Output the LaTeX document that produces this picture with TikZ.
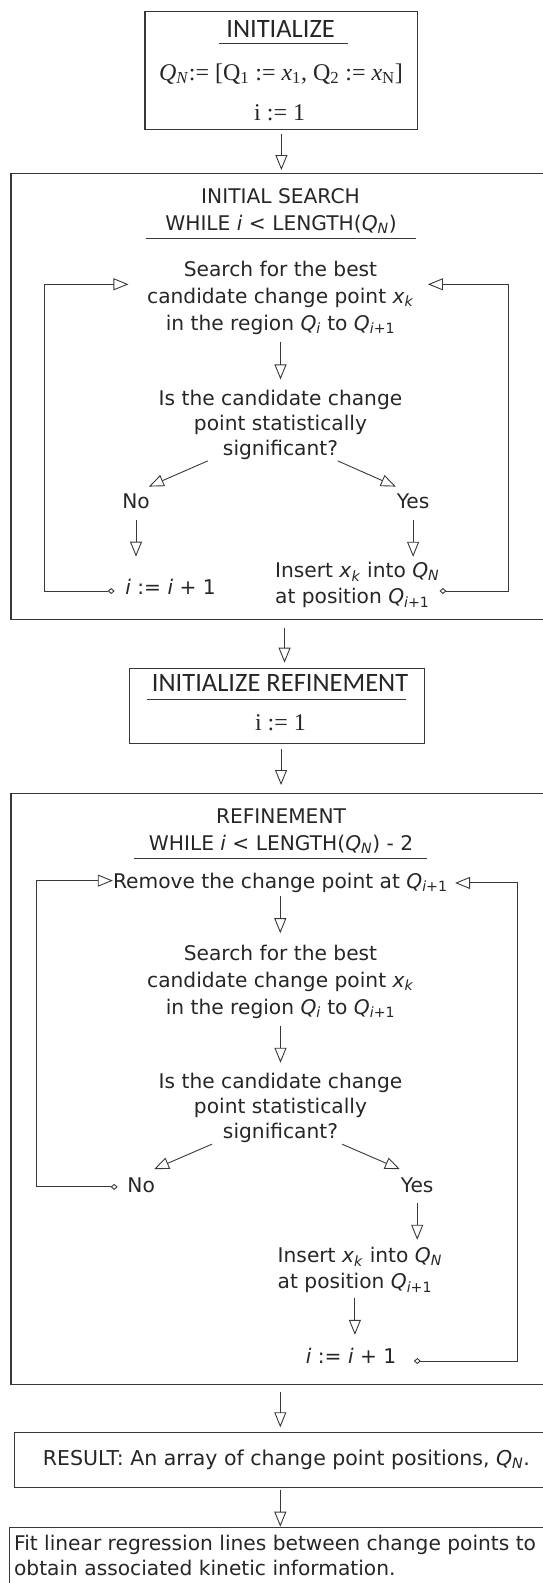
\documentclass[tikz,border=0pt]{standalone}
\usepackage{fontspec}
\setmainfont{DejaVu Sans}
\newfontfamily\headfont{Carlito}
\newfontfamily\mathsetfont{Liberation Serif}
\usepackage{tikz}
\usetikzlibrary{arrows.meta, calc}
\definecolor{ink}{HTML}{262626}
\definecolor{edge}{HTML}{383838}
\newcommand{\Qs}[1]{\textit{Q}\textsubscript{#1}}
\newcommand{\xk}{\textit{x}\textsubscript{\textit{k}}}
\tikzset{
  every node/.append style={font=\fontsize{20.2}{26}\selectfont, text=ink, inner sep=0pt},
  frame/.style={draw=edge, line width=1.1pt, anchor=north west},
  head/.style={font=\headfont\fontsize{26.5}{30}\selectfont},
  assign/.style={anchor=base, font=\mathsetfont\fontsize{24}{28}\selectfont},
  flow/.style={draw=edge, line width=0.9pt, -{Triangle[open, length=15pt, width=12pt]}},
  back/.style={draw=edge, line width=0.9pt, {Diamond[open, length=7pt, width=6pt]}-{Triangle[open, length=15pt, width=12pt]}},
  rule/.style={draw=edge, line width=1pt}
}

\begin{document}
\begin{tikzpicture}[x=1pt, y=-1pt]
    \useasboundingbox (0,0) rectangle (543,1583);
    \clip (0,0) rectangle (543,1583);

    % initialize
    \node[frame, minimum width=272.9, minimum height=118.6] (init) at (144.4,10.7) {};
    \node[head, anchor=base] (initH) at (280.6,37.7) {INITIALIZE};
    \draw[rule] (219.2,43.7) -- (348,43.7);
    \node[assign] (initQ) at (281,80) {\textit{Q}\textsubscript{\textit{N}}:= [Q\textsubscript{1} := \textit{x}\textsubscript{1}, Q\textsubscript{2} := \textit{x}\textsubscript{N}]};
    \node[assign] (initI) at (279.6,120) {i := 1};

    % initial search
    \node[frame, minimum width=600, minimum height=446] (search) at (10.4,173.3) {};
    \node[anchor=base] (searchH) at (280.5,203.3) {INITIAL SEARCH};
    \node[anchor=base] (searchW) at (281,230) {WHILE \textit{i} < LENGTH(\Qs{\textit{N}})};
    \draw[rule] (145.5,238.3) -- (415.6,238.3);
    \node[align=center, font=\fontsize{20.2}{27}\selectfont] (s1) at (280.5,297.8) {Search for the best\\candidate change point \xk\\in the region \Qs{\textit{i}} to \Qs{\textit{i}+1}};
    \node[align=center, font=\fontsize{20.2}{25}\selectfont] (q1) at (280.5,424.7) {Is the candidate change\\point statistically\\significant?};
    \node[anchor=base] (no1) at (136,508.3) {No};
    \node[anchor=base] (yes1) at (413.1,508.3) {Yes};
    \node (i1) at (170.6,586.5) {\textit{i} := \textit{i} + 1};
    \node[align=left] (ins1) at (357.2,585) {Insert \xk{} into \Qs{\textit{N}}\\at position \Qs{\textit{i}+1}};

    \draw[flow, shorten <=4pt, shorten >=3.3pt] (init.south) -- (init.south |- search.north);
    \draw[flow, shorten <=7.7pt, shorten >=10.3pt] (s1.south) -- (q1.north);
    \draw[flow] ($(q1.south)+(-72.7,1.2)$) -- ($(no1.north)+(12.9,-6.8)$);
    \draw[flow] ($(q1.south)+(57.2,1.2)$) -- ($(yes1.north)+(-17.3,-6.8)$);
    \draw[flow, shorten <=11.7pt, shorten >=22pt] (no1.south) -- (no1.south |- i1.north);
    \draw[flow, shorten <=11.7pt, shorten >=5.2pt] (yes1.south) -- (yes1.south |- ins1.north);
    \draw[back] ($(i1.west)+(-10.5,4.5)$) -- ++(-70.2,0) |- ($(s1.west)+(-18.5,-13.5)$);
    \draw[back] ($(ins1.east)+(0,6)$) -- ++(69.3,0) |- ($(s1.east)+(13.9,-13.5)$);

    % initialize refinement
    \node[frame, minimum width=295, minimum height=75.6] (initR) at (128.8,667.7) {};
    \node[head, anchor=base] (initRH) at (280.1,691.7) {INITIALIZE REFINEMENT};
    \draw[rule] (147.2,699.3) -- (405.8,699.3);
    \node[assign] (initRI) at (280.5,730) {i := 1};
    \draw[flow, shorten <=7.4pt, shorten >=5pt] ([xshift=7.7pt]initR.north |- search.south) -- ([xshift=7.7pt]initR.north);

    % refinement
    \node[frame, minimum width=600, minimum height=591] (refine) at (10.4,793.3) {};
    \draw[flow, shorten <=5pt, shorten >=8.3pt] ([xshift=4.2pt]initR.south) -- ([xshift=4.2pt]initR.south |- refine.north);
    \node[anchor=base] (refineH) at (281,823.3) {REFINEMENT};
    \node[anchor=base] (refineW) at (281,850) {WHILE \textit{i} < LENGTH(\Qs{\textit{N}}) - 2};
    \draw[rule] (134.3,858.3) -- (427,858.3);
    \node[anchor=base] (rm) at (280.3,888.3) {Remove the change point at \Qs{\textit{i}+1}};
    \node[align=center, font=\fontsize{20.2}{27}\selectfont] (s2) at (280.5,981.5) {Search for the best\\candidate change point \xk\\in the region \Qs{\textit{i}} to \Qs{\textit{i}+1}};
    \node[align=center, font=\fontsize{20.2}{25}\selectfont] (q2) at (280.5,1108) {Is the candidate change\\point statistically\\significant?};
    \node[anchor=base] (no2) at (141.2,1192.7) {No};
    \node[anchor=base] (yes2) at (417.2,1192.7) {Yes};
    \node[align=left] (ins2) at (359.8,1270.2) {Insert \xk{} into \Qs{\textit{N}}\\at position \Qs{\textit{i}+1}};
    \node[anchor=base] (i2) at (351.1,1363.3) {\textit{i} := \textit{i} + 1};

    \draw[flow, shorten <=3.4pt, shorten >=11.3pt] (rm.south) -- (rm.south |- s2.north);
    \draw[flow, shorten <=7.7pt, shorten >=10.2pt] (s2.south) -- (q2.north);
    \draw[flow] ($(q2.south)+(-68.6,1.2)$) -- ($(no2.north)+(12.9,-8.6)$);
    \draw[flow] ($(q2.south)+(61.6,1.2)$) -- ($(yes2.north)+(-17.3,-8.6)$);
    \draw[flow, shorten <=10pt, shorten >=7.4pt] (yes2.south) -- (yes2.south |- ins2.north);
    \draw[flow, shorten <=4.5pt, shorten >=12.9pt] ([xshift=3.8pt]i2.north |- ins2.south) -- ([xshift=3.8pt]i2.north);
    \draw[back] ($(no2.west)+(-9.6,1.4)$) -- ++(-80.8,0) |- ($(rm.west)+(0,-2.1)$);
    \draw[back] ($(i2.east)+(17.3,5.4)$) -- ++(103.9,0) |- ($(rm.east)+(7.3,0.2)$);

    % result
    \node[frame, minimum width=600, minimum height=55.6] (res) at (13.9,1431.7) {};
    \node[anchor=base west, font=\fontsize{20.5}{26}\selectfont] (resT) at (42.6,1465) {RESULT: An array of change point positions, \Qs{\textit{N}}.};
    \draw[flow, shorten <=6.4pt, shorten >=4.4pt] (refine.south -| rm) -- (res.north -| rm);

    \node[frame, minimum width=600, minimum height=100] (fit) at (8.7,1526.7) {};
    \node[anchor=north west, align=left, font=\fontsize{20.2}{25.7}\selectfont] (fitT) at (13.9,1534.5) {Fit linear regression lines between change points to\\obtain associated kinetic information.};
    \draw[flow, shorten <=2pt] (res.south -| rm) -- (fit.north -| rm);
\end{tikzpicture}
\end{document}
